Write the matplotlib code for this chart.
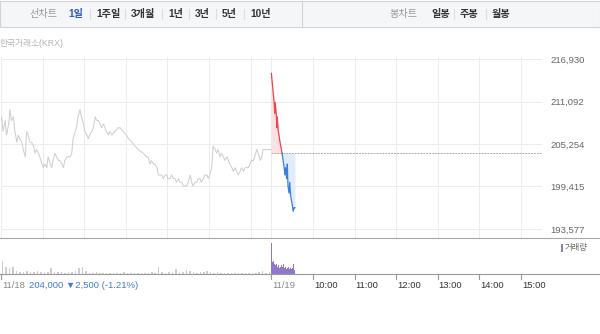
import matplotlib
matplotlib.use('Agg')
import matplotlib.pyplot as plt
from matplotlib.patches import Rectangle
from matplotlib.lines import Line2D

W, H = 600, 334
FONT = ['Liberation Sans', 'DejaVu Sans', 'Noto Sans CJK KR']

# 11/18 intraday (minutes after 09:00, price)
day1_min = [0, 1, 3, 6, 8, 11, 13, 15, 18, 20, 23, 25, 27, 30, 32, 35, 37, 39, 42, 44,
            47, 49, 51, 54, 56, 59, 61, 63, 66, 68, 71, 73, 75, 78, 80, 83, 85, 88, 90, 92,
            95, 97, 100, 102, 104, 107, 109, 111, 114, 116, 119, 121, 124, 126, 128, 131, 133, 136, 138, 140,
            143, 145, 148, 150, 152, 155, 157, 160, 164, 169, 172, 176, 181, 184, 189, 193, 198, 205, 210, 212,
            215, 217, 220, 222, 225, 227, 229, 232, 234, 237, 239, 241, 244, 246, 249, 251, 253, 256, 258, 261,
            263, 265, 268, 270, 273, 275, 277, 280, 282, 285, 287, 289, 292, 294, 297, 299, 301, 304, 306, 309,
            311, 313, 316, 318, 321, 323, 326, 328, 330, 333, 335, 338, 340, 342, 345, 347, 350, 352, 354, 357,
            359, 361, 364, 366, 369, 371, 374, 376, 378, 383, 388, 390]
day1_price = [208500, 209000, 207000, 208500, 206500, 208000, 210000, 208500, 209000, 207000,
              205500, 206500, 206000, 205500, 204500, 203500, 207000, 206500, 205500, 205500,
              205000, 204000, 204500, 204000, 203500, 202500, 202000, 202500, 202000, 203500,
              202500, 202000, 203000, 204000, 203500, 203000, 203000, 202500, 202000, 203000,
              203500, 203500, 203500, 204000, 206000, 207000, 207500, 209000, 210000, 209000,
              208000, 207000, 206500, 206000, 206500, 207000, 207500, 209000, 208500, 208500,
              208000, 207500, 208000, 207500, 207000, 206500, 207000, 206500, 207000, 207500,
              207500, 207000, 206500, 206000, 205500, 205000, 204500, 204000, 203500, 203500,
              202500, 203000, 202500, 202500, 202000, 201000, 201000, 201000, 200500, 201000,
              201000, 200500, 200500, 201000, 200500, 200500, 200000, 200500, 200000, 200000,
              199500, 199500, 199500, 200000, 201000, 200000, 199500, 200000, 200000, 200500,
              200500, 200000, 200500, 201000, 201000, 200500, 201000, 202000, 205000, 204500,
              204000, 204500, 203500, 204000, 203500, 203000, 203500, 203000, 202500, 202000,
              201500, 202000, 201500, 201000, 201500, 202000, 201500, 202000, 202000, 202000,
              202500, 203000, 203000, 203500, 204500, 204000, 203000, 203500, 204500, 204500,
              204500, 204500]

# 11/19 intraday so far
day2_min = [0, 1.5, 3, 4, 5, 5.5, 7, 8, 8.5, 10, 11, 12.5, 13.5, 15.5,
            17, 18.5, 19.5, 20.5, 22, 23, 24, 25.5, 26.5, 28, 30, 31.5, 33, 34]
day2_price = [215000, 213500, 212000, 211000, 209500, 211000, 209500, 207500, 209000, 207000,
              206500, 205500, 205000, 204000, 203000, 202000, 201000, 202000, 200500, 202500,
              199500, 198500, 200000, 198000, 197000, 196000, 196500, 196500]
prev_close = 204000

# volume, 11/18 in 5 minute bins, 11/19 per minute (thousand shares)
vol1 = [13, 7, 6, 7, 3, 2.5, 2, 3, 2, 2.5,
        3, 2, 2.5, 2, 6, 2, 2.5, 2, 1.5, 2,
        2, 3, 6, 7, 3, 1.5, 1.5, 2, 1.5, 1,
        1.5, 1, 1.5, 1, 1.5, 2, 1.5, 1, 1.5, 1,
        1.5, 1, 1.5, 2, 1.5, 7, 2, 1.5, 2.5, 2,
        5, 2, 2.5, 4, 3, 2, 1.5, 2.5, 2, 3,
        2, 1.5, 2, 1.5, 1, 1.5, 1, 1.5, 1.5, 1,
        1.5, 1, 1.5, 1, 2, 3, 1.5, 2]
vol2 = [31, 12, 11, 13, 10, 9, 8, 10, 7, 8, 9, 6, 8, 7, 9, 6, 7,
        10, 6, 8, 7, 5, 8, 6, 7, 9, 5, 6, 8, 5, 6, 10, 5, 4]

yticks = [193577, 199415, 205254, 211092, 216930]
ytick_labels = ['193,577', '199,415', '205,254', '211,092', '216,930']
xticks = [0, 6.5, 7.5, 8.5, 9.5, 10.5, 11.5, 12.5]
xtick_labels = ['11/18', '11/19', '10:00', '11:00', '12:00', '13:00', '14:00', '15:00']
grid_x = [0, 1, 2, 3, 4, 5, 6, 6.5, 7.5, 8.5, 9.5, 10.5, 11.5, 12.5]

tabs_left = ['1일', '1주일', '3개월', '1년', '3년', '5년', '10년']
tabs_left_x = [68, 96, 131, 168, 195, 222, 250]
tabs_right = ['일봉', '주봉', '월봉']
tabs_right_x = [431, 460, 492]


def fx(px):
    return px / W


def fy(py):
    return 1 - py / H


t1 = [m / 60 for m in day1_min]
t2 = [6.5 + m / 60 for m in day2_min]
tv1 = [i * 5 / 60 + 2.5 / 60 for i in range(len(vol1))]
tv2 = [6.5 + i / 60 + 0.5 / 60 for i in range(len(vol2))]

fig = plt.figure(figsize=(W / 100, H / 100), dpi=100)
fig.patch.set_facecolor('white')

# tab bar
fig.patches.append(Rectangle((0, fy(27)), 1, 26 / H, transform=fig.transFigure,
                             facecolor='#f5f6f8', edgecolor='#d3d3d3', lw=0.8))
fig.add_artist(Line2D([fx(302), fx(302)], [fy(27), fy(1)], color='#d3d3d3', lw=0.8))
fig.text(fx(29), fy(14), '선차트', family=FONT, fontsize=7.3, color='#999999', va='center')
fig.text(fx(390), fy(14), '봉차트', family=FONT, fontsize=7.3, color='#999999', va='center')
for i, (lab, x) in enumerate(zip(tabs_left, tabs_left_x)):
    c = '#2e5cb8' if i == 0 else '#333333'
    fig.text(fx(x), fy(14), lab, family=FONT, fontsize=7.3, color=c, weight='bold', va='center')
    if i > 0:
        fig.add_artist(Line2D([fx(x - 6.5)] * 2, [fy(19), fy(9)], color='#dddddd', lw=0.8))
for i, (lab, x) in enumerate(zip(tabs_right, tabs_right_x)):
    fig.text(fx(x), fy(14), lab, family=FONT, fontsize=7.3, color='#333333', weight='bold', va='center')
    if i > 0:
        fig.add_artist(Line2D([fx(x - 6)] * 2, [fy(19), fy(9)], color='#dddddd', lw=0.8))

fig.text(fx(0), fy(43), '한국거래소(KRX)', family=FONT, fontsize=6.3, color='#b5b5b5', va='center')

# price panel
ax = fig.add_axes([fx(1), fy(238), 540.7 / W, 181 / H])
ax.set_xlim(0, 13)
ax.set_ylim(192320, 217250)
for s in ax.spines.values():
    s.set_visible(False)
for g in grid_x:
    ax.axvline(g, color='#ececec', lw=0.7, zorder=0)
for v in yticks:
    ax.axhline(v, color='#ececec', lw=0.7, zorder=0)

ax.plot(t1, day1_price, color='#cfcfcf', lw=0.75)
ax.hlines(prev_close, 6.5, 13, colors='#b0b0b0', linestyles=(0, (2, 1)), lw=0.7)
ax.fill_between(t2[:14], day2_price[:14], prev_close, color='#fde2e3', lw=0)
ax.fill_between(t2[13:], day2_price[13:], prev_close, color='#e1ebfa', lw=0)
ax.plot(t2[:14], day2_price[:14], color='#ef444c', lw=0.9)
ax.plot(t2[13:], day2_price[13:], color='#3a7ddd', lw=0.9)

ax.set_xticks([])
ax.yaxis.tick_right()
ax.set_yticks(yticks)
ax.set_yticklabels(ytick_labels, family=FONT, fontsize=6.8, color='#666666')
ax.tick_params(axis='y', length=0, pad=6)

# volume panel
axv = fig.add_axes([fx(1), fy(274), 540.7 / W, 36 / H])
axv.set_xlim(0, 13)
axv.set_ylim(0, 36)
axv.axis('off')
axv.bar(tv1, vol1, width=2.2 / 60, color='#cdcdcd', lw=0)
axv.bar(tv2, vol2, width=1 / 60, color='#9277c9', lw=0)

fig.add_artist(Line2D([0, 1], [fy(238), fy(238)], color='#a8a8a8', lw=0.8))
fig.add_artist(Line2D([0, 1], [fy(274), fy(274)], color='#999999', lw=0.8))

fig.patches.append(Rectangle((fx(561), fy(252)), 2 / W, 8 / H, transform=fig.transFigure,
                             facecolor='#9277c9', edgecolor='none'))
fig.text(fx(565), fy(248), '거래량', family=FONT, fontsize=6, color='#666666', va='center')

# time axis ticks and labels
for i, (t, lab) in enumerate(zip(xticks, xtick_labels)):
    px = 1 + t * 540.7 / 13
    fig.add_artist(Line2D([fx(px)] * 2, [fy(274), fy(279)], color='#999999', lw=0.8))
    c = '#333333' if i >= 2 else '#888888'
    fig.text(fx(px + 1), fy(286), lab, family=FONT, fontsize=6.8, color=c, va='center')

fig.text(fx(29), fy(286), '204,000 ▼2,500 (-1.21%)', family=FONT, fontsize=6.8,
         color='#3f7ad6', va='center')

fig.savefig('out.png', dpi=100, facecolor='white')
